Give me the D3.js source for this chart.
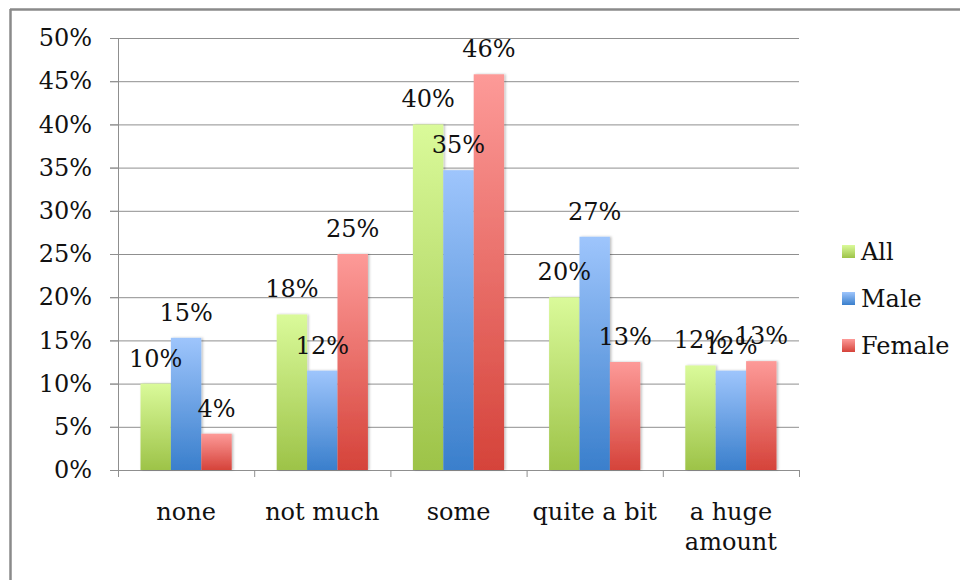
<!DOCTYPE html>
<html lang="en">
<head>
<meta charset="utf-8">
<title>Responses by gender</title>
<script src="https://cdn.jsdelivr.net/npm/d3@7"></script>
<style>
  body { margin: 0; background: #fff; }
  text { font-family: "DejaVu Serif", serif; font-size: 24px; fill: #111; }
  .grid line { stroke: #8f8f8f; stroke-width: 1; }
  .grid path { display: none; }
  .axis path, .axis line { stroke: #8f8f8f; stroke-width: 1; }
</style>
</head>
<body>
<script>
// data (percent)
var categories = ["none", "not much", "some", "quite a bit", "a huge amount"];
var series = ["All", "Male", "Female"];
var allValues = [10, 18, 40, 20, 12.1];
var maleValues = [15.3, 11.5, 34.7, 27, 11.5];
var femaleValues = [4.2, 25, 45.8, 12.5, 12.6];
var yTicks = [0, 5, 10, 15, 20, 25, 30, 35, 40, 45, 50];

var colors = {
  All:    ["#dafa9a", "#9dc348"],
  Male:   ["#9ec5fc", "#3a7fcc"],
  Female: ["#fd9a98", "#d5433a"]
};

// plot area
var w = 960, h = 580;
var plotLeft = 118, plotRight = 799, plotTop = 38, plotBottom = 470;

var rows = categories.map(function(c, i) {
  return { cat: c, All: allValues[i], Male: maleValues[i], Female: femaleValues[i] };
});

var svg = d3.select("body").append("svg")
  .attr("width", w)
  .attr("height", h);

var defs = svg.append("defs");
series.forEach(function(s) {
  var g = defs.append("linearGradient")
    .attr("id", "grad-" + s)
    .attr("x1", 0).attr("y1", 0).attr("x2", 0).attr("y2", 1);
  g.append("stop").attr("offset", "0%").attr("stop-color", colors[s][0]);
  g.append("stop").attr("offset", "100%").attr("stop-color", colors[s][1]);
});
defs.append("filter").attr("id", "shadow")
  .attr("x", "-20%").attr("y", "-5%").attr("width", "150%").attr("height", "110%")
  .append("feDropShadow")
  .attr("dx", 1.5).attr("dy", 0).attr("stdDeviation", 1.2)
  .attr("flood-color", "#000").attr("flood-opacity", 0.25);

// chart frame (only top and left edge visible)
svg.append("line").attr("x1", 10).attr("x2", w).attr("y1", 9.5).attr("y2", 9.5)
  .attr("stroke", "#8a8a8a").attr("stroke-width", 2.5);
svg.append("line").attr("x1", 10.5).attr("x2", 10.5).attr("y1", 9).attr("y2", h)
  .attr("stroke", "#8a8a8a").attr("stroke-width", 2.5);

var x0 = d3.scaleBand().domain(categories).range([plotLeft, plotRight]);
var x1 = d3.scaleBand().domain(series).range([0, x0.bandwidth()])
  .paddingInner(0).paddingOuter(0.74);
var y = d3.scaleLinear().domain([0, 50]).range([plotBottom, plotTop]);

// gridlines
svg.append("g")
  .attr("class", "grid")
  .attr("transform", "translate(" + plotRight + ",0)")
  .call(d3.axisLeft(y).tickValues(yTicks).tickSize(plotRight - plotLeft + 8).tickFormat(""));

// y axis
var yAxis = svg.append("g")
  .attr("class", "axis")
  .attr("transform", "translate(" + plotLeft + ",0)")
  .call(d3.axisLeft(y).tickValues(yTicks).tickSize(8).tickSizeOuter(0).tickPadding(18)
    .tickFormat(function(d) { return d + "%"; }));
yAxis.selectAll("text").style("font-size", "24px").attr("fill", "#111");

// x axis: boundary ticks
var idx = d3.scaleLinear().domain([0, categories.length]).range([plotLeft, plotRight]);
svg.append("g")
  .attr("class", "axis")
  .attr("transform", "translate(0," + plotBottom + ")")
  .call(d3.axisBottom(idx).tickValues(d3.range(categories.length + 1)).tickSize(7)
    .tickSizeOuter(0).tickFormat(""));

// category labels (wrapped)
var catLabels = svg.append("g").selectAll("text")
  .data(categories)
  .join("text")
  .attr("text-anchor", "middle")
  .attr("x", function(d) { return x0(d) + x0.bandwidth() / 2; })
  .attr("y", 520);
catLabels.each(function(d) {
  var t = d3.select(this), words = d.split(" "), line = [];
  var ts = t.append("tspan").attr("x", t.attr("x"));
  words.forEach(function(word) {
    line.push(word);
    ts.text(line.join(" "));
    if (ts.node().getComputedTextLength() > 132 && line.length > 1) {
      line.pop();
      ts.text(line.join(" "));
      line = [word];
      ts = t.append("tspan").attr("x", t.attr("x")).attr("dy", 30).text(word);
    }
  });
});

// bars
var groups = svg.append("g").selectAll("g")
  .data(rows)
  .join("g")
  .attr("transform", function(d) { return "translate(" + x0(d.cat) + ",0)"; });

groups.selectAll("rect")
  .data(function(d) { return series.map(function(s) { return { key: s, value: d[s] }; }); })
  .join("rect")
  .attr("x", function(d) { return x1(d.key); })
  .attr("y", function(d) { return y(d.value); })
  .attr("width", x1.bandwidth())
  .attr("height", function(d) { return y(0) - y(d.value); })
  .attr("fill", function(d) { return "url(#grad-" + d.key + ")"; })
  .attr("filter", "url(#shadow)");

// value labels
groups.selectAll("text.val")
  .data(function(d) { return series.map(function(s) { return { key: s, value: d[s] }; }); })
  .join("text")
  .attr("class", "val")
  .attr("text-anchor", "middle")
  .attr("x", function(d) { return x1(d.key) + x1.bandwidth() / 2; })
  .attr("y", function(d) { return y(d.value) - 17; })
  .text(function(d) { return Math.round(d.value) + "%"; });

// legend
var legend = svg.append("g").selectAll("g")
  .data(series)
  .join("g")
  .attr("transform", function(d, i) { return "translate(842," + (245 + i * 47) + ")"; });
legend.append("rect")
  .attr("width", 13).attr("height", 13)
  .attr("fill", function(d) { return "url(#grad-" + d + ")"; });
legend.append("text")
  .attr("x", 19).attr("y", 15)
  .text(function(d) { return d; });
</script>
</body>
</html>
